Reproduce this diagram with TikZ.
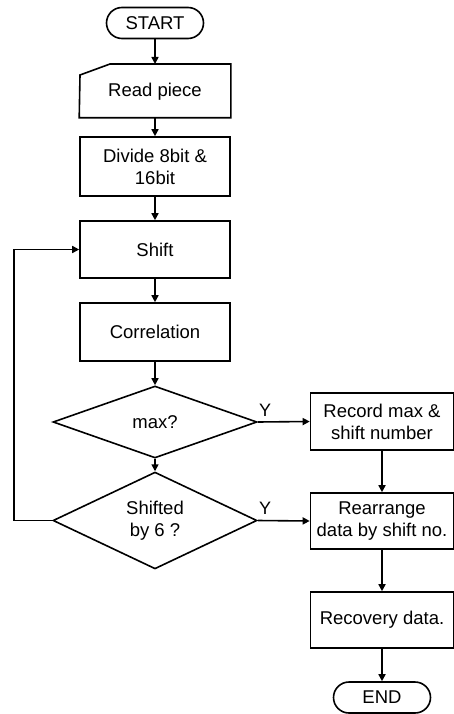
\documentclass[tikz,border=0pt]{standalone}
\usepackage{fontspec}
\setmainfont{Liberation Sans}
\usetikzlibrary{shapes.geometric,arrows.meta}
\begin{document}
\begin{tikzpicture}[x=1pt,y=-1pt,
  line width=1.6pt,
  every node/.style={font=\fontsize{18.5}{22}\selectfont, align=center, inner sep=0pt},
  proc/.style={draw, rectangle, minimum width=150pt, minimum height=57pt},
  rproc/.style={draw, rectangle, minimum width=143pt, minimum height=57pt},
  term/.style={draw, rectangle, rounded corners=15.5pt, minimum width=97pt, minimum height=31pt},
  dec/.style={draw, diamond, minimum width=204pt, minimum height=73pt},
  arr/.style={-{Triangle[length=7pt,width=7pt]}, line width=1.6pt},
  lbl/.style={font=\fontsize{18}{20}\selectfont}
]
\useasboundingbox (0,0) rectangle (454,714);
\node[term] (start) at (155,23) {START};
\node[minimum width=150pt, minimum height=50pt] (read) at (155,92) {Read piece};
\draw (read.south west) -- (80,75) -- (110,64) -- (read.north east |- 0,64) -- (read.south east) -- cycle;
\node[proc, minimum height=59pt] (divide) at (155,166.5) {Divide 8bit \&\\16bit};
\node[proc] (shift) at (155,249.5) {Shift};
\node[proc, minimum height=58pt] (corr) at (155,332) {Correlation};
\node[dec, minimum height=72pt] (max) at (155,422) {max?};
\node[dec, minimum height=75pt] (shifted) at (155,520.5) {Shifted\\by 6 ?};
\node[rproc] (record) at (382,421.5) {Record max \&\\shift number};
\node[rproc, minimum height=56pt] (rearr) at (382,521) {Rearrange\\data by shift no.};
\node[rproc, minimum height=56pt] (recov) at (382,620) {Recovery data.};
\node[term] (end) at (382,697.5) {END};
\coordinate (loopb) at (14,520.5);
\coordinate (loopt) at (14,249.5);
\draw[arr] (start) -- (155,64);
\draw[arr] (read) -- (divide);
\draw[arr] (divide) -- (shift);
\draw[arr] (shift) -- (corr);
\draw[arr] (corr) -- (max);
\draw[arr] (max) -- (shifted);
\draw[arr] (max.east) -- (record.west);
\draw[arr] (shifted.east) -- (rearr.west);
\draw[arr] (record) -- (rearr);
\draw[arr] (rearr) -- (recov);
\draw[arr] (recov) -- (end);
\draw[arr] (shifted.west) -- (loopb) -- (loopt) -- (shift.west);
\node[lbl] (y1) at (265,410) {Y};
\node[lbl] (y2) at (265,508) {Y};
\end{tikzpicture}
\end{document}
